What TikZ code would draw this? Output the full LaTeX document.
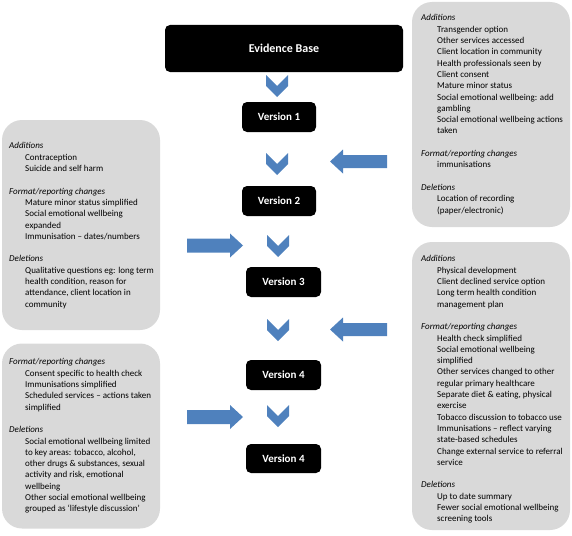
\documentclass[tikz,border=0pt]{standalone}
\usepackage{fontspec}
\setmainfont{Carlito}
\definecolor{boxgray}{HTML}{D9D9D9}
\definecolor{arrowblue}{HTML}{4F81BD}
\newcommand\myind{\hspace*{16pt}}
\begin{document}
\begin{tikzpicture}[x=1pt,y=-1pt,
  blackbox/.style={fill=black, rounded corners=5pt, text=white, font=\bfseries\fontsize{11}{13}\selectfont, inner sep=0pt},
  graybox/.style={fill=boxgray, rounded corners=20pt, inner sep=0pt},
  boxtext/.style={anchor=north west, inner sep=0pt, align=left, font=\fontsize{9}{11.3}\selectfont},
  chev/.pic={\fill[arrowblue] (-11,0) -- (0,11) -- (11,0) -- (11,11) -- (0,22) -- (-11,11) -- cycle;},
  larrow/.pic={\fill[arrowblue] (0,0) -- (13,-12) -- (13,-6.5) -- (57,-6.5) -- (57,6.5) -- (13,6.5) -- (13,12) -- cycle;},
  rarrow/.pic={\fill[arrowblue] (0,0) -- (-13,-12) -- (-13,-7) -- (-56,-7) -- (-56,7) -- (-13,7) -- (-13,12) -- cycle;}
]
\useasboundingbox (0,0) rectangle (572,535);

% gray panels
\node[graybox, minimum width=158pt, minimum height=210pt] (g1) at (81,225) {};
\node[graybox, minimum width=158pt, minimum height=185pt] (g2) at (81,436) {};
\node[graybox, minimum width=158pt, minimum height=225pt] (g3) at (491,114.5) {};
\node[graybox, minimum width=158pt, minimum height=288pt] (g4) at (491,386) {};

% black boxes
\node[blackbox, minimum width=238pt, minimum height=47pt, font=\bfseries\fontsize{12}{14}\selectfont] (eb) at (284,48.5) {Evidence Base};
\node[blackbox, minimum width=74pt, minimum height=30pt] (v1) at (279,117) {Version 1};
\node[blackbox, minimum width=74pt, minimum height=30pt] (v2) at (279,201) {Version 2};
\node[blackbox, minimum width=75pt, minimum height=30pt] (v3) at (283.5,282) {Version 3};
\node[blackbox, minimum width=75pt, minimum height=30pt] (v4) at (283.5,375) {Version 4};
\node[blackbox, minimum width=75pt, minimum height=29pt] (v5) at (283.5,458.5) {Version 4};

% chevrons
\pic at (277,75) {chev};
\pic at (277,153) {chev};
\pic at (278,235) {chev};
\pic at (278,319) {chev};
\pic at (278,405) {chev};

% block arrows
\pic at (330,161.5) {larrow};
\pic at (330,329.5) {larrow};
\pic at (243,245.5) {rarrow};
\pic at (243,417) {rarrow};

% texts
\node[boxtext] (t1) at (9,142.5) {%
\textit{Additions}\\
\myind Contraception\\
\myind Suicide and self harm\\
\mbox{}\\
\textit{Format/reporting changes}\\
\myind Mature minor status simplified\\
\myind Social emotional wellbeing\\
\myind expanded\\
\myind Immunisation – dates/numbers\\
\mbox{}\\
\textit{Deletions}\\
\myind Qualitative questions eg: long term\\
\myind health condition, reason for\\
\myind attendance, client location in\\
\myind community};

\node[boxtext] (t2) at (9,358.5) {%
\textit{Format/reporting changes}\\
\myind Consent specific to health check\\
\myind Immunisations simplified\\
\myind Scheduled services – actions taken\\
\myind simplified\\
\mbox{}\\
\textit{Deletions}\\
\myind Social emotional wellbeing limited\\
\myind to key areas: tobacco, alcohol,\\
\myind other drugs \& substances, sexual\\
\myind activity and risk, emotional\\
\myind wellbeing\\
\myind Other social emotional wellbeing\\
\myind grouped as ‘lifestyle discussion’};

\node[boxtext] (t3) at (421,14.5) {%
\textit{Additions}\\
\myind Transgender option\\
\myind Other services accessed\\
\myind Client location in community\\
\myind Health professionals seen by\\
\myind Client consent\\
\myind Mature minor status\\
\myind Social emotional wellbeing: add\\
\myind gambling\\
\myind Social emotional wellbeing actions\\
\myind taken\\
\mbox{}\\
\textit{Format/reporting changes}\\
\myind immunisations\\
\mbox{}\\
\textit{Deletions}\\
\myind Location of recording\\
\myind (paper/electronic)};

\node[boxtext] (t4) at (421,255.5) {%
\textit{Additions}\\
\myind Physical development\\
\myind Client declined service option\\
\myind Long term health condition\\
\myind management plan\\
\mbox{}\\
\textit{Format/reporting changes}\\
\myind Health check simplified\\
\myind Social emotional wellbeing\\
\myind simplified\\
\myind Other services changed to other\\
\myind regular primary healthcare\\
\myind Separate diet \& eating, physical\\
\myind exercise\\
\myind Tobacco discussion to tobacco use\\
\myind Immunisations – reflect varying\\
\myind state-based schedules\\
\myind Change external service to referral\\
\myind service\\
\mbox{}\\
\textit{Deletions}\\
\myind Up to date summary\\
\myind Fewer social emotional wellbeing\\
\myind screening tools};
\end{tikzpicture}
\end{document}
